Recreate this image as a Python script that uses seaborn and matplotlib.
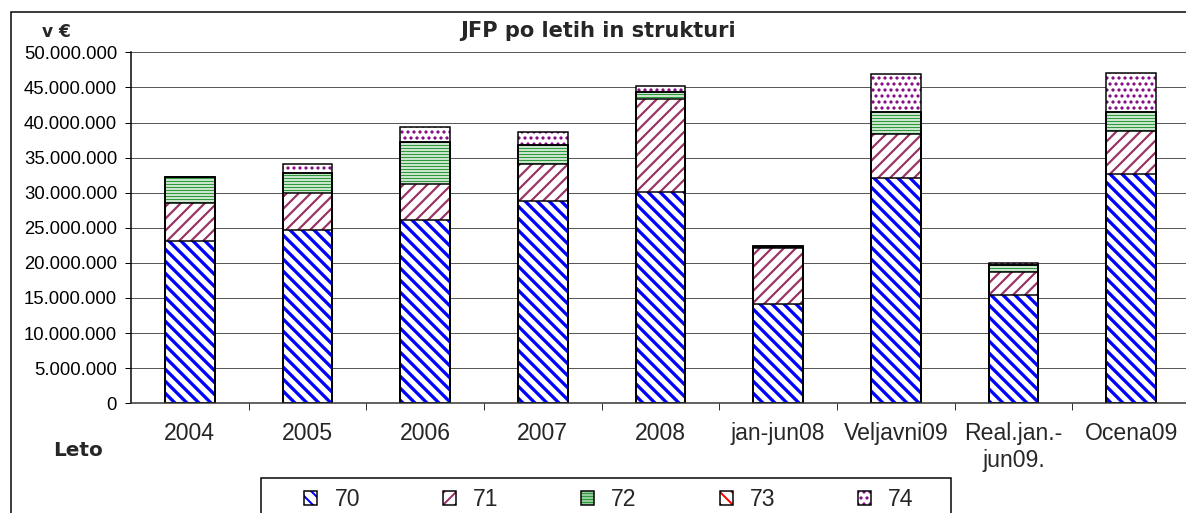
import matplotlib
matplotlib.use("Agg")
import numpy as np
import matplotlib.pyplot as plt
import seaborn as sns
from matplotlib.patches import Patch, Rectangle
from matplotlib.ticker import FuncFormatter, MultipleLocator, FixedLocator

# values in EUR
categories = ["2004", "2005", "2006", "2007", "2008", "jan-jun08",
              "Veljavni09", "Real.jan.-\njun09.", "Ocena09"]
konto_70 = [23_170_000, 24_650_000, 26_070_000, 28_870_000, 30_100_000,
            14_150_000, 32_140_000, 15_380_000, 32_600_000]
konto_71 = [5_430_000, 5_250_000, 5_230_000, 5_230_000, 13_250_000,
            7_930_000, 6_230_000, 3_280_000, 6_200_000]
konto_72 = [3_650_000, 2_960_000, 5_900_000, 2_750_000, 1_050_000,
            200_000, 3_180_000, 1_000_000, 2_750_000]
konto_73 = [0, 0, 0, 0, 0, 150_000, 0, 0, 0]
konto_74 = [0, 1_290_000, 2_100_000, 1_800_000, 760_000,
            0, 5_320_000, 340_000, 5_550_000]
series_names = ["70", "71", "72", "73", "74"]

sns.set_style("white")
plt.rcParams["font.family"] = ["Liberation Sans", "DejaVu Sans"]
plt.rcParams["hatch.linewidth"] = 2.0

W, H = 1186, 513
fig = plt.figure(figsize=(W / 72, H / 72), dpi=72)
ax = fig.add_axes([131 / W, 1 - 403.3 / H, (1190 - 131) / W, (403.3 - 52.3) / H])

layers = np.array([konto_70, konto_71, konto_72, konto_73, konto_74], dtype=float)
cum = np.cumsum(layers, axis=0)

# (hatch, hatch colour, hatch line width)
styles = [("\\\\", "#0000ff", 3.3),
          ("//", "#993366", 2.2),
          ("----", "#2f9a3a", 1.5),
          ("\\\\", "#ff0000", 2.0),
          ("..", "#800080", 2.0)]
bar_w = 0.42


def style_patch(p, hatch, hc, hlw):
    p.set_hatch(hatch)
    p.set_edgecolor(hc)
    p.set_linewidth(0)
    if hasattr(p, "set_hatch_linewidth"):
        p.set_hatch_linewidth(hlw)


# hatched fills, drawn from the top of the stack downwards
for i in range(4, -1, -1):
    n0 = len(ax.patches)
    sns.barplot(x=categories, y=cum[i], order=categories, color="white",
                saturation=1, width=bar_w, errorbar=None, ax=ax)
    for p in ax.patches[n0:]:
        style_patch(p, *styles[i])

# black outlines of every segment
for i in range(5):
    sns.barplot(x=categories, y=cum[i], order=categories, color="black",
                fill=False, linewidth=1.5, width=bar_w, errorbar=None, ax=ax)

ax.set_xlim(-0.5, 8.5)
ax.set_ylim(0, 50_000_000)
ax.yaxis.set_major_locator(MultipleLocator(5_000_000))
ax.yaxis.set_major_formatter(FuncFormatter(lambda v, _: f"{v:,.0f}".replace(",", ".")))
ax.set_axisbelow(True)
ax.grid(axis="y", color="#595959", lw=1)
ax.grid(axis="x", visible=False)
ax.set_xlabel("")
ax.set_ylabel("")

for s in ["top", "right"]:
    ax.spines[s].set_visible(False)
ax.spines["left"].set_color("black")
ax.spines["left"].set_linewidth(1.5)
ax.spines["bottom"].set_color("#333333")
ax.spines["bottom"].set_linewidth(1.5)

ax.tick_params(axis="y", left=True, length=6, width=1, pad=8, labelsize=18.5,
               colors="black")
ax.tick_params(axis="x", which="major", bottom=True, length=0, pad=19,
               labelsize=23)
ax.xaxis.set_minor_locator(FixedLocator(np.arange(0.5, 8, 1)))
ax.tick_params(axis="x", which="minor", bottom=True, length=7, width=1,
               color="#333333")

fig.text(598 / W, 1 - 31 / H, "JFP po letih in strukturi", ha="center",
         va="center", fontsize=21, fontweight="bold", family="DejaVu Sans")
fig.text(56 / W, 1 - 32 / H, "v €", ha="center", va="center", fontsize=17,
         fontweight="bold", family="DejaVu Sans")
fig.text(78 / W, 1 - 451 / H, "Leto", ha="center", va="center", fontsize=20,
         fontweight="bold", family="DejaVu Sans")

# legend
handles = []
for hatch, hc, hlw in styles:
    fill = Patch(facecolor="white")
    style_patch(fill, hatch, hc, hlw)
    handles.append((fill, Patch(facecolor="none", edgecolor="black", lw=1.5)))
fig.legend(handles, series_names, loc="center",
           bbox_to_anchor=(609 / W, 1 - 500 / H), ncol=5, frameon=False,
           fontsize=23, handlelength=0.57, handleheight=0.57,
           handletextpad=0.74, columnspacing=3.6, borderpad=0)
fig.add_artist(Rectangle((261 / W, -0.2), (951 - 261) / W, 0.2 + (513 - 478) / H,
                         transform=fig.transFigure, fill=False, ec="black",
                         lw=1.5, clip_on=False))

# outer chart border
fig.add_artist(Rectangle((11 / W, -0.5), 2, 0.5 + 1 - 12 / H,
                         transform=fig.transFigure, fill=False, ec="black",
                         lw=1.5, clip_on=False))

fig.savefig("out.png", dpi=72)
